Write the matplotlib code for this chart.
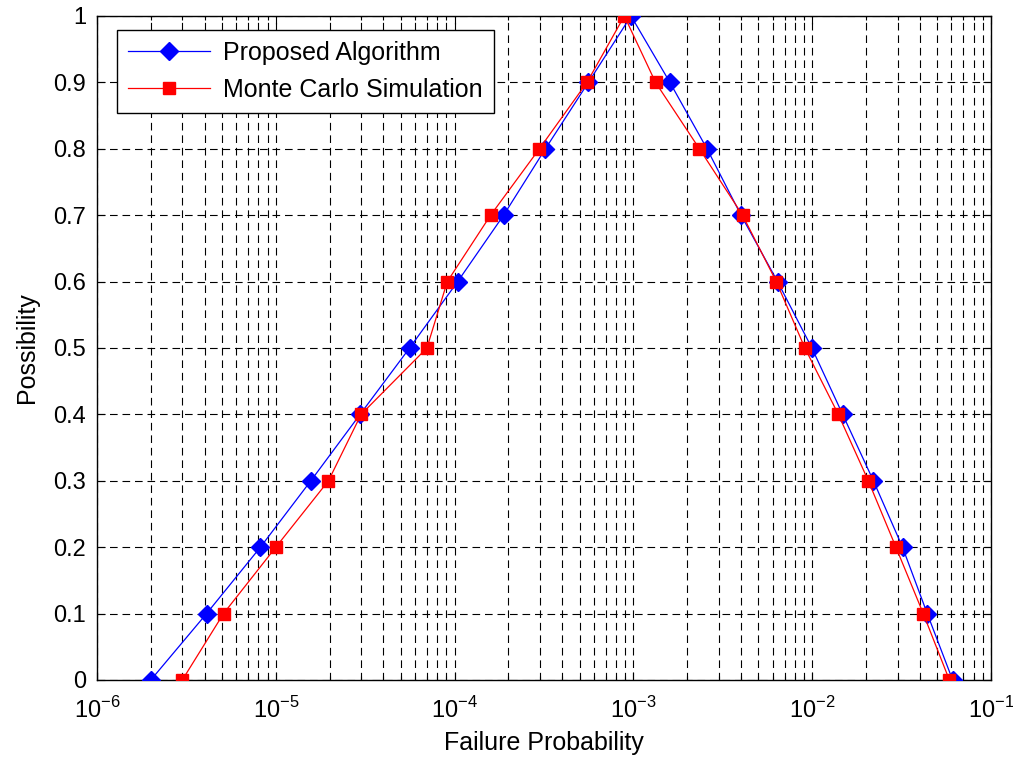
import matplotlib
matplotlib.use("Agg")
import matplotlib.pyplot as plt
from matplotlib.ticker import LogLocator, FixedLocator, FixedFormatter, NullFormatter

plt.rcParams['font.family'] = ['Liberation Sans', 'DejaVu Sans']
plt.rcParams['mathtext.fontset'] = 'custom'
plt.rcParams['mathtext.rm'] = 'Liberation Sans'
plt.rcParams['lines.scale_dashes'] = False

# Data
possibility = [0.0, 0.1, 0.2, 0.3, 0.4, 0.5, 0.6, 0.7, 0.8, 0.9, 1.0,
               0.9, 0.8, 0.7, 0.6, 0.5, 0.4, 0.3, 0.2, 0.1, 0.0]
proposed_pf = [2.0e-6, 4.1e-6, 8.2e-6, 1.57e-5, 2.96e-5, 5.6e-5, 1.04e-4, 1.88e-4,
               3.22e-4, 5.6e-4, 0.97e-3, 1.6e-3, 2.58e-3, 4.0e-3, 6.4e-3, 9.96e-3,
               1.48e-2, 2.2e-2, 3.2e-2, 4.4e-2, 6.1e-2]
monte_pf = [3.0e-6, 5.1e-6, 1.0e-5, 1.97e-5, 3.0e-5, 7.0e-5, 9.1e-5, 1.59e-4,
            2.98e-4, 5.5e-4, 8.9e-4, 1.33e-3, 2.34e-3, 4.08e-3, 6.3e-3, 9.1e-3,
            1.40e-2, 2.06e-2, 2.94e-2, 4.18e-2, 5.85e-2]
x_ticks = [1e-6, 1e-5, 1e-4, 1e-3, 1e-2, 1e-1]
x_labels = ['$10^{-6}$', '$10^{-5}$', '$10^{-4}$', '$10^{-3}$', '$10^{-2}$', '$10^{-1}$']
y_ticks = [0, 0.1, 0.2, 0.3, 0.4, 0.5, 0.6, 0.7, 0.8, 0.9, 1.0]
y_labels = ['0', '0.1', '0.2', '0.3', '0.4', '0.5', '0.6', '0.7', '0.8', '0.9', '1']

fig = plt.figure(figsize=(10.13, 7.63), dpi=100)
ax = fig.add_axes([97/1013, 1 - 680/763, (991-97)/1013, (680-16)/763])

ax.plot(proposed_pf, possibility, color='blue', lw=0.9, marker='D', ms=9,
        markerfacecolor='blue', markeredgecolor='blue', label='Proposed Algorithm', zorder=3)
ax.plot(monte_pf, possibility, color='red', lw=0.9, marker='s', ms=9,
        markerfacecolor='red', markeredgecolor='red', label='Monte Carlo Simulation', zorder=4)

ax.set_xscale('log')
ax.set_xlim(1e-6, 1e-1)
ax.set_ylim(0, 1)
ax.xaxis.set_major_locator(FixedLocator(x_ticks))
ax.xaxis.set_major_formatter(FixedFormatter(x_labels))
ax.xaxis.set_minor_locator(LogLocator(base=10, subs=range(2, 10), numticks=20))
ax.xaxis.set_minor_formatter(NullFormatter())
ax.yaxis.set_major_locator(FixedLocator(y_ticks))
ax.yaxis.set_major_formatter(FixedFormatter(y_labels))

grid_kw = dict(color='black', linewidth=0.8, linestyle=(0, (5.5, 3.5)))
ax.grid(True, which='major', axis='both', **grid_kw)
ax.grid(True, which='minor', axis='x', **grid_kw)
ax.set_axisbelow(True)

ax.tick_params(which='both', direction='in', top=True, right=True, labelsize=17,
               color='black', width=0.8)
ax.tick_params(which='major', length=6)
ax.tick_params(which='minor', length=3)
ax.tick_params(axis='x', pad=12)
ax.tick_params(axis='y', pad=8)
for s in ax.spines.values():
    s.set_linewidth(1.0)
    s.set_color('black')

ax.set_xlabel('Failure Probability', fontsize=18, labelpad=6)
ax.set_ylabel('Possibility', fontsize=18, labelpad=10)

leg = ax.legend(loc='upper left', bbox_to_anchor=(0.022, 0.979), fontsize=18,
                frameon=True, fancybox=False, framealpha=1, edgecolor='black',
                borderpad=0.45, handlelength=3.3, handletextpad=0.5,
                labelspacing=0.5, borderaxespad=0)
leg.get_frame().set_linewidth(1.0)

fig.savefig('out.png', dpi=100)
